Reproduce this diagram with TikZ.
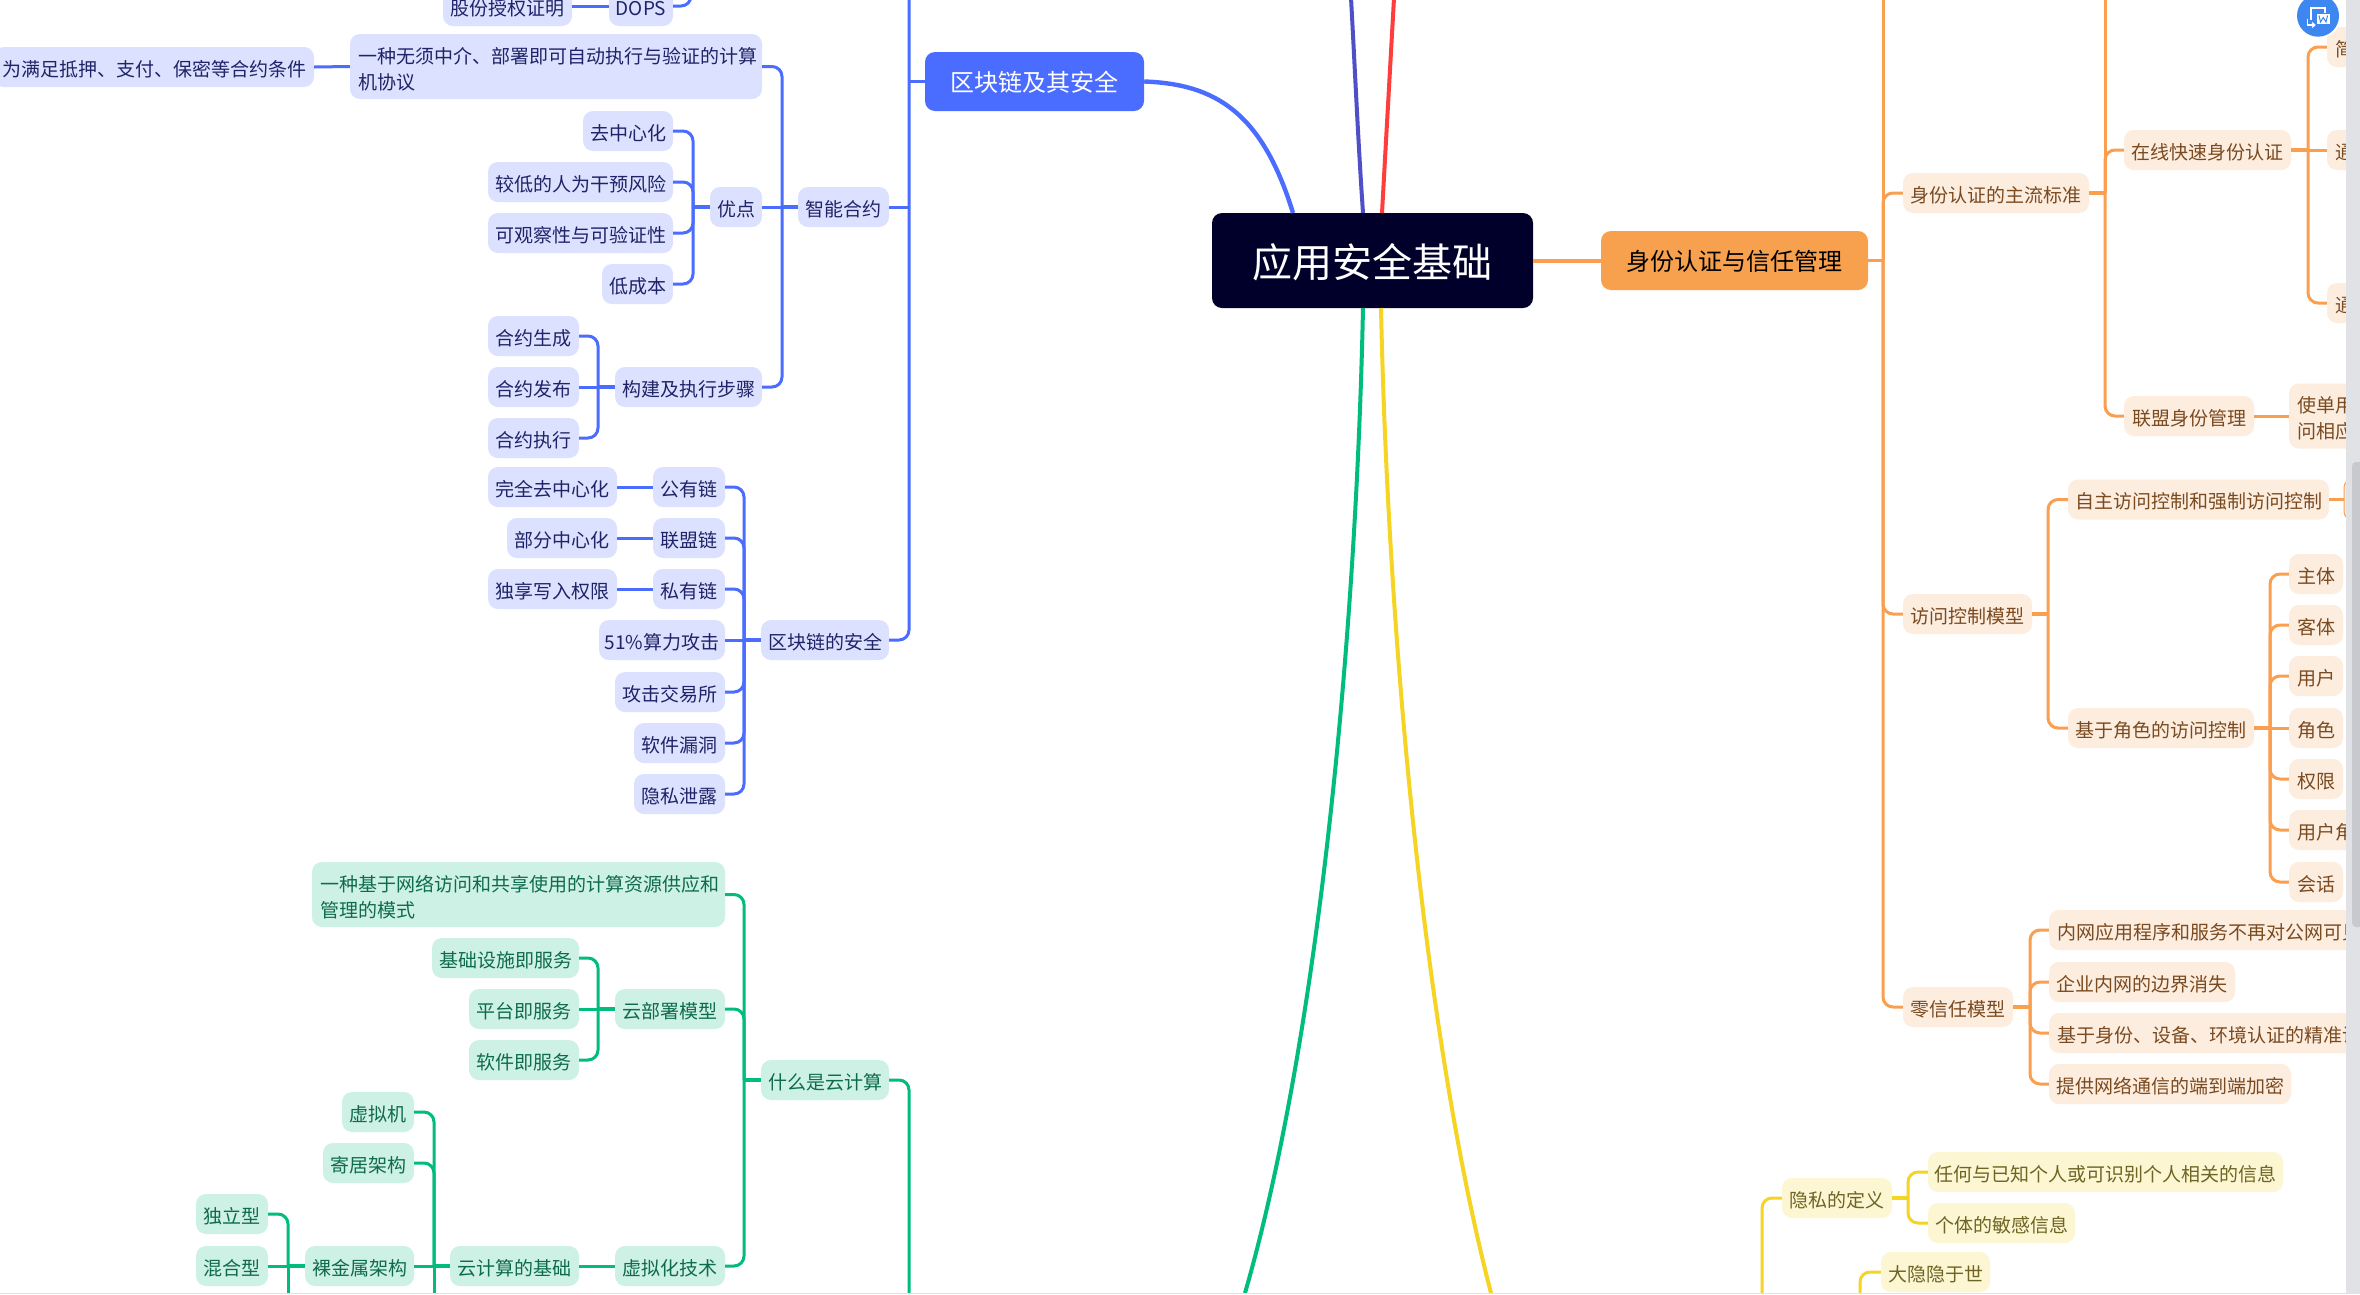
\documentclass[tikz,border=0pt]{standalone}
\usepackage{fontspec}
\setmainfont{Noto Sans CJK SC}
\definecolor{cb}{HTML}{4A6CFF}\definecolor{cbl}{HTML}{DBE1FE}\definecolor{cbt}{HTML}{1F2468}
\definecolor{co}{HTML}{FA9F50}\definecolor{col}{HTML}{FDEDDF}\definecolor{cot}{HTML}{7A4A20}
\definecolor{cg}{HTML}{00BC7D}\definecolor{cgl}{HTML}{CDF1E5}\definecolor{cgt}{HTML}{0F6B4E}
\definecolor{cy}{HTML}{F5D423}\definecolor{cyl}{HTML}{FDF6D3}\definecolor{cyt}{HTML}{6E6423}
\definecolor{cp}{HTML}{4F4FC8}\definecolor{cr}{HTML}{FF3D3D}
\definecolor{croot}{HTML}{00002B}\definecolor{corg}{HTML}{F7A04D}
\definecolor{ctrack}{HTML}{E0E2E6}\definecolor{cthumb}{HTML}{C8C9CE}\definecolor{cbar}{HTML}{3F87F0}
\tikzset{
  boxbase/.style={rounded corners=10pt,inner sep=0pt,font=\fontsize{19}{26}\selectfont},
  bb/.style={boxbase,fill=cbl,text=cbt},
  ob/.style={boxbase,fill=col,text=cot},
  gb/.style={boxbase,fill=cgl,text=cgt},
  yb/.style={boxbase,fill=cyl,text=cyt},
  wire/.style={rounded corners=10pt,line width=3pt},
  bw/.style={wire,draw=cb},
  ow/.style={wire,draw=co},
  gw/.style={wire,draw=cg},
  yw/.style={wire,draw=cy},
  trunk/.style={line width=4pt},
}
% style, name, x1, x2, yc, text : one line, centred
\newcommand{\nd}[6]{\node[#1,minimum width={(#4-#3)*1pt},minimum height=40pt,text height=19pt,text depth=0.2pt] (#2) at ({(#3+#4)/2},#5) {#6};}
% one line, left aligned (clipped at the right by the scrollbar)
\newcommand{\ndl}[6]{\node[#1,minimum width={(#4-#3)*1pt},minimum height=40pt,text height=19pt,text depth=0.2pt,text width={(#4-#3-16)*1pt},align=left] (#2) at ({(#3+#4)/2},#5) {#6};}
% two lines
\newcommand{\ndd}[6]{\node[#1,minimum width={(#4-#3)*1pt},minimum height=65pt,text width={(#4-#3-16)*1pt},align=left] (#2) at ({(#3+#4)/2},#5) {\rule{0pt}{21pt}#6};}
% connector from a spine to a child: style, spine, parent anchor, child anchor
\newcommand{\cn}[4]{\draw[#1] (#3 -| #2) -- (#4 -| #2) -- (#4);}
\newcommand{\stub}[3]{\draw[#1,rounded corners=0pt,line width=4.4pt] (#3) -- (#3 -| #2);}
\begin{document}
\begin{tikzpicture}[x=1pt,y=-1pt]
\useasboundingbox (0,0) rectangle (2360,1294);
\fill[white] (0,0) rectangle (2360,1294);
% spines
\foreach \n/\x in {a/691,b/782,c/693,d/598,e/909,f/744,g/434,h/288,i/1883,j/2105,k/2308,l/2048,m/2270,n/2030,o/1762,p/1908,q/1860,r/598}
  \coordinate (sp\n) at (\x,0);
\coordinate (gbot) at (909,1293);
% root
\node[fill=croot,text=white,rounded corners=10pt,inner sep=0pt,minimum width=321pt,minimum height=95pt,font=\fontsize{40}{48}\selectfont,text height=36pt,text depth=3pt] (root) at (1372.5,260.5) {应用安全基础};
\node[fill=cb,text=white,rounded corners=10pt,inner sep=0pt,minimum width=219pt,minimum height=59pt,font=\fontsize{24}{30}\selectfont,text height=23pt,text depth=2.6pt] (bchain) at (1034.5,81.5) {区块链及其安全};
\node[fill=corg,text=black,rounded corners=10pt,inner sep=0pt,minimum width=267pt,minimum height=59pt,font=\fontsize{24}{30}\selectfont,text height=23pt,text depth=2.6pt] (auth) at (1734.5,260.5) {身份认证与信任管理};
% trunks
\coordinate (rb) at (1293,213);\coordinate (rp) at (1363,213);\coordinate (rr) at (1382,213);
\coordinate (rg) at (1363,308);\coordinate (ry) at (1381,308);
\coordinate (tp) at (1351,-2);\coordinate (tr) at (1394,-2);\coordinate (bg) at (1245,1293);\coordinate (by) at (1491,1293);
\draw[trunk,cb,line width=4.4pt] (bchain.east) .. controls (1215,84) and (1262,112) .. (rb);
\draw[trunk,cp] (rp) .. controls (1358,140) and (1355,70) .. (tp);
\draw[trunk,cr] (rr) .. controls (1386,140) and (1390,70) .. (tr);
\draw[trunk,cg] (rg) .. controls (1356,640) and (1318,1040) .. (bg);
\draw[trunk,cy] (ry) .. controls (1388,640) and (1425,1040) .. (by);
\draw[trunk,co] (root.east |- auth.west) -- (auth.west);
% ---------- blue ----------
\nd{bb}{gf}{443}{572}{6}{股份授权证明}
\nd{bb}{dops}{609}{673}{6}{DOPS}
\nd{bb}{cond}{-6}{314}{67}{为满足抵押、支付、保密等合约条件}
\ndd{bb}{sdef}{350}{762}{66.5}{一种无须中介、部署即可自动执行与验证的计算\\机协议}
\nd{bb}{smart}{798}{889}{207}{智能合约}
\nd{bb}{adv}{710}{762}{207}{优点}
\nd{bb}{a1}{583}{673}{131}{去中心化}
\nd{bb}{a2}{488}{673}{182}{较低的人为干预风险}
\nd{bb}{a3}{488}{673}{233}{可观察性与可验证性}
\nd{bb}{a4}{602}{673}{284}{低成本}
\nd{bb}{bld}{615}{762}{387}{构建及执行步骤}
\nd{bb}{s1}{488}{579}{336}{合约生成}
\nd{bb}{s2}{488}{579}{387}{合约发布}
\nd{bb}{s3}{488}{579}{438}{合约执行}
\nd{bb}{sec}{761}{889}{640}{区块链的安全}
\nd{bb}{c1}{653}{725}{487}{公有链}
\nd{bb}{c2}{653}{725}{538}{联盟链}
\nd{bb}{c3}{653}{725}{589}{私有链}
\nd{bb}{c4}{599}{725}{640}{51\%算力攻击}
\nd{bb}{c5}{615}{725}{692}{攻击交易所}
\nd{bb}{c6}{634}{725}{743}{软件漏洞}
\nd{bb}{c7}{634}{725}{794}{隐私泄露}
\nd{bb}{d1}{488}{617}{487}{完全去中心化}
\nd{bb}{d2}{507}{617}{538}{部分中心化}
\nd{bb}{d3}{488}{617}{589}{独享写入权限}
\coordinate (ta) at (691,-30);\coordinate (te) at (909,-30);
\draw[bw] (gf.east) -- (dops.west);
\draw[bw] (dops.east) -- (dops.east -| spa) -- (ta);
\draw[bw] (cond.east) -- (sdef.west);
\cn{bw}{spb}{smart.west}{sdef.east}\cn{bw}{spb}{smart.west}{bld.east}\draw[bw] (smart.west) -- (adv.east);
\stub{draw=cb}{spb}{smart.west}
\cn{bw}{spc}{adv.west}{a1.east}\cn{bw}{spc}{adv.west}{a2.east}\cn{bw}{spc}{adv.west}{a3.east}\cn{bw}{spc}{adv.west}{a4.east}
\stub{draw=cb}{spc}{adv.west}
\cn{bw}{spd}{bld.west}{s1.east}\draw[bw] (bld.west) -- (s2.east);\cn{bw}{spd}{bld.west}{s3.east}
\stub{draw=cb}{spd}{bld.west}
\draw[bw] (bchain.west) -- (bchain.west -| spe);
\draw[bw] (smart.east) -- (smart.east -| spe);
\draw[bw] (sec.east) -- (sec.east -| spe) -- (te);
\cn{bw}{spf}{sec.west}{c1.east}\cn{bw}{spf}{sec.west}{c2.east}\cn{bw}{spf}{sec.west}{c3.east}\draw[bw] (sec.west) -- (c4.east);
\cn{bw}{spf}{sec.west}{c5.east}\cn{bw}{spf}{sec.west}{c6.east}\cn{bw}{spf}{sec.west}{c7.east}
\stub{draw=cb}{spf}{sec.west}
\draw[bw] (c1.west) -- (d1.east);\draw[bw] (c2.west) -- (d2.east);\draw[bw] (c3.west) -- (d3.east);
% ---------- green ----------
\ndd{gb}{cdef}{312}{725}{894.5}{一种基于网络访问和共享使用的计算资源供应和\\管理的模式}
\nd{gb}{whatc}{761}{889}{1080}{什么是云计算}
\nd{gb}{dep}{615}{725}{1009}{云部署模型}
\nd{gb}{e1}{432}{579}{958}{基础设施即服务}
\nd{gb}{e2}{469}{579}{1009}{平台即服务}
\nd{gb}{e3}{469}{579}{1060}{软件即服务}
\nd{gb}{virt}{615}{725}{1266}{虚拟化技术}
\nd{gb}{base}{450}{579}{1266}{云计算的基础}
\nd{gb}{bare}{305}{414}{1266}{裸金属架构}
\nd{gb}{vm}{342}{414}{1112}{虚拟机}
\nd{gb}{host}{323}{414}{1163}{寄居架构}
\nd{gb}{mix}{196}{268}{1266}{混合型}
\nd{gb}{ind}{196}{268}{1214}{独立型}
\coordinate (bh) at (288,1293);\coordinate (bi) at (434,1293);
\draw[gw] (whatc.east) -- (whatc.east -| spe) -- (gbot);
\cn{gw}{spf}{whatc.west}{cdef.east}\cn{gw}{spf}{whatc.west}{dep.east}\cn{gw}{spf}{whatc.west}{virt.east}
\stub{draw=cg}{spf}{whatc.west}
\cn{gw}{spr}{dep.west}{e1.east}\draw[gw] (dep.west) -- (e2.east);\cn{gw}{spr}{dep.west}{e3.east}
\stub{draw=cg}{spr}{dep.west}
\draw[gw] (virt.west) -- (base.east);
\cn{gw}{spg}{base.west}{vm.east}\cn{gw}{spg}{base.west}{host.east}\draw[gw] (base.west) -- (bare.east);
\draw[gw] (bi) -- (base.west -| spg);
\stub{draw=cg}{spg}{base.west}
\cn{gw}{sph}{bare.west}{ind.east}\draw[gw] (bare.west) -- (mix.east);
\draw[gw] (bh) -- (bare.west -| sph);
\stub{draw=cg}{sph}{bare.west}
% ---------- orange ----------
\nd{ob}{std}{1903}{2089}{193}{身份认证的主流标准}
\nd{ob}{fast}{2124}{2291}{150}{在线快速身份认证}
\ndl{ob}{f1}{2327}{2360}{47}{简}
\ndl{ob}{f2}{2327}{2360}{150}{通}
\ndl{ob}{f3}{2327}{2360}{303}{通}
\nd{ob}{fed}{2124}{2254}{416}{联盟身份管理}
\ndd{ob}{feddef}{2289}{2360}{416}{使单用\\问相应}
\nd{ob}{acm}{1903}{2032}{614}{访问控制模型}
\nd{ob}{dac}{2068}{2329}{499.5}{自主访问控制和强制访问控制}
\node[fill=col,draw=co,line width=1pt,rounded corners=8pt,minimum width=30pt,minimum height=40pt,inner sep=0pt] (dacc) at (2359,499.5) {};
\nd{ob}{rbac}{2068}{2254}{728}{基于角色的访问控制}
\nd{ob}{r1}{2289}{2343}{574}{主体}
\nd{ob}{r2}{2289}{2343}{625}{客体}
\nd{ob}{r3}{2289}{2343}{676}{用户}
\nd{ob}{r4}{2289}{2343}{728}{角色}
\nd{ob}{r5}{2289}{2343}{779}{权限}
\ndl{ob}{r6}{2289}{2360}{830}{用户角}
\nd{ob}{r7}{2289}{2343}{882}{会话}
\nd{ob}{zt}{1903}{2013}{1007}{零信任模型}
\ndl{ob}{z1}{2049}{2360}{930}{内网应用程序和服务不再对公网可见}
\nd{ob}{z2}{2049}{2235}{982}{企业内网的边界消失}
\ndl{ob}{z3}{2049}{2360}{1033}{基于身份、设备、环境认证的精准访}
\nd{ob}{z4}{2049}{2291}{1084}{提供网络通信的端到端加密}
\coordinate (ti) at (1883,-30);\coordinate (tj) at (2105,-30);
\draw[ow] (auth.east) -- (auth.east -| spi);
\draw[ow] (ti) -- (auth.east -| spi);
\cn{ow}{spi}{auth.east}{std.west}\cn{ow}{spi}{auth.east}{acm.west}\cn{ow}{spi}{auth.east}{zt.west}
\draw[ow] (tj) -- (std.east -| spj);
\cn{ow}{spj}{std.east}{fast.west}\cn{ow}{spj}{std.east}{fed.west}
\stub{draw=co}{spj}{std.east}
\cn{ow}{spk}{fast.east}{f1.west}\draw[ow] (fast.east) -- (f2.west);\cn{ow}{spk}{fast.east}{f3.west}
\stub{draw=co}{spk}{fast.east}
\draw[ow] (fed.east) -- (feddef.west);
\cn{ow}{spl}{acm.east}{dac.west}\cn{ow}{spl}{acm.east}{rbac.west}
\stub{draw=co}{spl}{acm.east}
\draw[ow] (dac.east) -- (dacc.west);
\cn{ow}{spm}{rbac.east}{r1.west}\cn{ow}{spm}{rbac.east}{r2.west}\cn{ow}{spm}{rbac.east}{r3.west}\draw[ow] (rbac.east) -- (r4.west);
\cn{ow}{spm}{rbac.east}{r5.west}\cn{ow}{spm}{rbac.east}{r6.west}\cn{ow}{spm}{rbac.east}{r7.west}
\stub{draw=co}{spm}{rbac.east}
\cn{ow}{spn}{zt.east}{z1.west}\cn{ow}{spn}{zt.east}{z2.west}\cn{ow}{spn}{zt.east}{z3.west}\cn{ow}{spn}{zt.east}{z4.west}
\stub{draw=co}{spn}{zt.east}
% ---------- yellow ----------
\nd{yb}{pdef}{1782}{1892}{1198}{隐私的定义}
\nd{yb}{p1}{1928}{2283}{1172}{任何与已知个人或可识别个人相关的信息}
\nd{yb}{p2}{1928}{2075}{1223}{个体的敏感信息}
\nd{yb}{hide}{1881}{1990}{1272}{大隐隐于世}
\coordinate (bo) at (1762,1293);\coordinate (bq) at (1860,1293);
\draw[yw] (pdef.west) -- (pdef.west -| spo) -- (bo);
\cn{yw}{spp}{pdef.east}{p1.west}\cn{yw}{spp}{pdef.east}{p2.west}
\stub{draw=cy}{spp}{pdef.east}
\draw[yw] (hide.west) -- (hide.west -| spq) -- (bq);
% ---------- page chrome ----------
\fill[ctrack] (2346,0) rectangle (2360,1294);
\fill[cthumb,rounded corners=4pt] (2352,462) rectangle (2368,927);
\fill[ctrack] (0,1293) rectangle (2346,1294);
\fill[white] (2318,15.7) circle (23);
\fill[cbar] (2318,15.7) circle (21);
\draw[white,line width=1.4pt] (2311,20) -- (2311,8) -- (2325,8) -- (2325,13);
\fill[white] (2317,13.5) rectangle (2329.5,24);
\draw[cbar,line width=1pt] (2319,15.5) -- (2320.5,22) -- (2323.2,17.5) -- (2326,22) -- (2327.5,15.5);
\draw[white,line width=1.2pt] (2307.5,18.5) -- (2307.5,25) -- (2314.5,25);
\draw[white,line width=1.2pt] (2312,22.5) -- (2314.8,25) -- (2312,27.5);
\end{tikzpicture}
\end{document}
